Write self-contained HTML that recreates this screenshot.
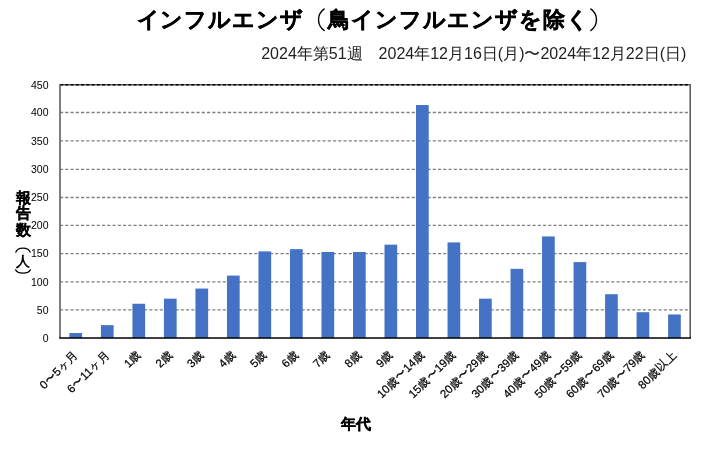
<!DOCTYPE html>
<html lang="ja"><head><meta charset="utf-8"><style>
html,body{margin:0;padding:0;background:#fff;}
body{width:720px;height:474px;overflow:hidden;position:relative;font-family:"Liberation Sans",sans-serif;}
svg{position:absolute;left:0;top:0;will-change:transform;}
</style></head><body>
<svg width="720" height="474" viewBox="0 0 720 474" font-family="Liberation Sans, sans-serif">
<g font-size="22.2" letter-spacing="0.95" font-weight="bold" fill="#000" stroke="#000" stroke-width="0.45"><text x="136.5" y="27.2">インフルエンザ</text><text x="328.1" y="27.2">鳥インフルエンザを除く</text></g>
<g fill="none" stroke="#000" stroke-width="1.4"><path d="M324.6,8.6 C316.5,14 316.5,25.5 324.6,30.8"/><path d="M590.4,8.6 C598.5,14 598.5,25.5 590.4,30.8"/></g>
<text x="686.3" y="59" font-size="16" fill="#222" text-anchor="end">2024年第51週　2024年12月16日(月)〜2024年12月22日(日)</text>
<g stroke="#7f7f7f" stroke-width="1.3" stroke-dasharray="3.15 2.1" fill="none">
<line x1="60.0" y1="309.90" x2="690.2" y2="309.90" /><line x1="60.0" y1="281.90" x2="690.2" y2="281.90" /><line x1="60.0" y1="253.60" x2="690.2" y2="253.60" /><line x1="60.0" y1="225.45" x2="690.2" y2="225.45" /><line x1="60.0" y1="197.50" x2="690.2" y2="197.50" /><line x1="60.0" y1="169.30" x2="690.2" y2="169.30" /><line x1="60.0" y1="140.80" x2="690.2" y2="140.80" /><line x1="60.0" y1="112.50" x2="690.2" y2="112.50" />
</g>
<g fill="#4472c4">
<rect x="69.41" y="333.03" width="12.7" height="5.07" /><rect x="100.92" y="325.15" width="12.7" height="12.95" /><rect x="132.43" y="303.76" width="12.7" height="34.34" /><rect x="163.94" y="298.69" width="12.7" height="39.41" /><rect x="195.45" y="288.56" width="12.7" height="49.54" /><rect x="226.96" y="275.61" width="12.7" height="62.49" /><rect x="258.46" y="251.40" width="12.7" height="86.70" /><rect x="289.98" y="249.15" width="12.7" height="88.95" /><rect x="321.49" y="251.97" width="12.7" height="86.13" /><rect x="353.00" y="251.97" width="12.7" height="86.13" /><rect x="384.50" y="244.65" width="12.7" height="93.45" /><rect x="416.01" y="105.04" width="12.7" height="233.06" /><rect x="447.52" y="242.40" width="12.7" height="95.70" /><rect x="479.04" y="298.69" width="12.7" height="39.41" /><rect x="510.54" y="268.86" width="12.7" height="69.24" /><rect x="542.05" y="236.43" width="12.7" height="101.67" /><rect x="573.57" y="262.10" width="12.7" height="76.00" /><rect x="605.08" y="294.19" width="12.7" height="43.91" /><rect x="636.59" y="312.20" width="12.7" height="25.90" /><rect x="668.10" y="314.46" width="12.7" height="23.64" />
</g>
<line x1="60.0" y1="84.77" x2="690.2" y2="84.77" stroke="#606060" stroke-width="1.4"/>
<line x1="60.0" y1="84.77" x2="690.2" y2="84.77" stroke="#000" stroke-width="1.4" stroke-dasharray="3.15 2.1"/>
<line x1="690.2" y1="84.07" x2="690.2" y2="338.1" stroke="#5e5e5e" stroke-width="1.6"/>
<line x1="60.0" y1="84.07" x2="60.0" y2="338.1" stroke="#5e5e5e" stroke-width="1.6"/>
<line x1="59.2" y1="338.1" x2="691.0" y2="338.1" stroke="#000" stroke-width="1.5"/>
<g font-size="10.5" fill="#000" text-anchor="end">
<text x="48.5" y="341.90">0</text><text x="48.5" y="313.70">50</text><text x="48.5" y="285.70">100</text><text x="48.5" y="257.40">150</text><text x="48.5" y="229.25">200</text><text x="48.5" y="201.30">250</text><text x="48.5" y="173.10">300</text><text x="48.5" y="144.60">350</text><text x="48.5" y="116.30">400</text><text x="48.5" y="88.57">450</text>
</g>
<g font-size="11.5" fill="#000" stroke="#000" stroke-width="0.22" text-anchor="end">
<text transform="translate(78.66,355.30) rotate(-45)">0〜5ヶ月</text><text transform="translate(110.17,355.30) rotate(-45)">6〜11ヶ月</text><text transform="translate(141.68,355.30) rotate(-45)">1歳</text><text transform="translate(173.19,355.30) rotate(-45)">2歳</text><text transform="translate(204.70,355.30) rotate(-45)">3歳</text><text transform="translate(236.21,355.30) rotate(-45)">4歳</text><text transform="translate(267.71,355.30) rotate(-45)">5歳</text><text transform="translate(299.23,355.30) rotate(-45)">6歳</text><text transform="translate(330.74,355.30) rotate(-45)">7歳</text><text transform="translate(362.25,355.30) rotate(-45)">8歳</text><text transform="translate(393.75,355.30) rotate(-45)">9歳</text><text transform="translate(425.26,355.30) rotate(-45)">10歳〜14歳</text><text transform="translate(456.77,355.30) rotate(-45)">15歳〜19歳</text><text transform="translate(488.29,355.30) rotate(-45)">20歳〜29歳</text><text transform="translate(519.79,355.30) rotate(-45)">30歳〜39歳</text><text transform="translate(551.30,355.30) rotate(-45)">40歳〜49歳</text><text transform="translate(582.82,355.30) rotate(-45)">50歳〜59歳</text><text transform="translate(614.33,355.30) rotate(-45)">60歳〜69歳</text><text transform="translate(645.84,355.30) rotate(-45)">70歳〜79歳</text><text transform="translate(677.35,355.30) rotate(-45)">80歳以上</text>
</g>
<g font-size="14.6" font-weight="bold" fill="#000" stroke="#000" stroke-width="0.3">
<text x="15.8" y="202.8">報</text><text x="15.8" y="218">告</text><text x="15.8" y="234.6">数</text></g>
<text x="16.1" y="265.7" font-size="13.9" font-weight="bold">人</text>
<g fill="none" stroke="#000" stroke-width="1.2">
<path d="M15.6,252.6 C17.5,246.5 28.5,246.5 30.4,252.6"/>
<path d="M15.4,269.2 C17.3,274.5 28.7,274.5 30.6,269.2"/>
</g>
<text x="340.8" y="429.2" font-size="14.9" font-weight="bold" fill="#000" stroke="#000" stroke-width="0.3">年代</text>
</svg>
</body></html>
